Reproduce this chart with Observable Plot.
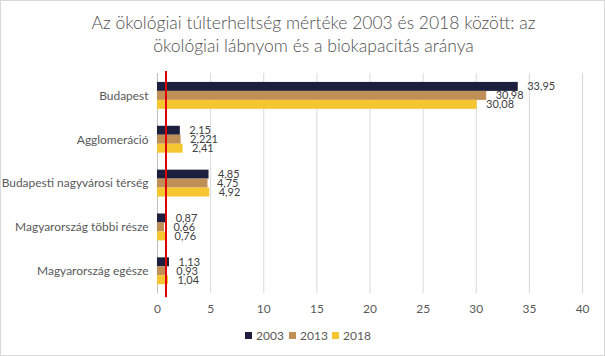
<!DOCTYPE html>
<html>
<head>
<meta charset="utf-8">
<script src="https://cdn.jsdelivr.net/npm/d3@7"></script>
<script src="https://cdn.jsdelivr.net/npm/@observablehq/plot@0.6"></script>
<style>
  html, body { margin: 0; padding: 0; background: #fff; }
  #wrap { position: relative; width: 605px; height: 356px; box-sizing: border-box; border: 1px solid #d9d9d9; overflow: hidden; font-family: Lato, "Liberation Sans", sans-serif; }
  #title { position: absolute; left: 0; top: 10px; width: 625px; text-align: center; font-size: 17.5px; line-height: 23px; color: #505050; font-weight: 300; }
  #chart { position: absolute; left: -1px; top: 59px; }
  #legend { position: absolute; left: 0; top: 327px; width: 605px; height: 18px; font-size: 12px; color: #595959; }
  #legend span.item { position: absolute; top: 0; display: inline-flex; align-items: center; gap: 4px; }
  #legend span.sw { display: inline-block; width: 7px; height: 7px; }
</style>
</head>
<body>
<div id="wrap">
  <div id="title">Az ökológiai túlterheltség mértéke 2003 és 2018 között: az<br>ökológiai lábnyom és a biokapacitás aránya</div>
  <div id="chart"></div>
  <div id="legend"></div>
</div>
<script>
const categories = ["Budapest", "Agglomeráció", "Budapesti nagyvárosi térség", "Magyarország többi része", "Magyarország egésze"];
const years = ["2003", "2013", "2018"];
const v2003 = [33.95, 2.15, 4.85, 0.87, 1.13];
const v2013 = [30.98, 2.221, 4.75, 0.66, 0.93];
const v2018 = [30.08, 2.41, 4.92, 0.76, 1.04];
const labels2003 = ["33,95", "2,15", "4,85", "0,87", "1,13"];
const labels2013 = ["30,98", "2,221", "4,75", "0,66", "0,93"];
const labels2018 = ["30,08", "2,41", "4,92", "0,76", "1,04"];
const xTicks = [0, 5, 10, 15, 20, 25, 30, 35, 40];
const threshold = [0.8];
const colors = ["#1c1f3e", "#c08e57", "#f5c630"];

const series = [v2003, v2013, v2018];
const seriesLabels = [labels2003, labels2013, labels2018];
const rows = [];
years.forEach((yr, i) => {
  categories.forEach((c, j) => {
    rows.push({category: c, year: yr, value: series[i][j], label: seriesLabels[i][j], idx: i});
  });
});

const barH = 9;
const marks = [
  Plot.ruleX(xTicks.filter(d => d > 0), {stroke: "#d9d9d9", strokeWidth: 1}),
  Plot.ruleX([0], {stroke: "#bfbfbf", strokeWidth: 1})
];
years.forEach((yr, i) => {
  const data = rows.filter(r => r.year === yr);
  marks.push(Plot.barX(data, {
    x: "value", y: "category", fill: colors[i],
    insetTop: i * barH, insetBottom: (2 - i) * barH
  }));
  marks.push(Plot.text(data, {
    x: "value", y: "category", text: "label", dx: 9, dy: (i - 1) * barH,
    textAnchor: "start", fill: "#404040", fontSize: 11
  }));
});
marks.push(Plot.ruleX(threshold, {stroke: "#e00000", strokeWidth: 2, insetTop: -2, insetBottom: -4}));

const chart = Plot.plot({
  width: 606,
  height: 262,
  marginTop: 13,
  marginBottom: 28,
  marginLeft: 157.5,
  marginRight: 22,
  style: {fontFamily: "Lato, 'Liberation Sans', sans-serif", fontSize: "12px", color: "#595959", background: "transparent"},
  x: {domain: [0, 40], ticks: xTicks, tickSize: 0, tickPadding: 11, label: null, tickFormat: d => String(d)},
  y: {domain: categories, paddingInner: 0.39, paddingOuter: 0.195, tickSize: 0, tickPadding: 9, label: null, fontSize: 12},
  marks
});
document.getElementById("chart").appendChild(chart);

const legend = document.getElementById("legend");
const legendLeft = [244, 288, 331];
years.forEach((yr, i) => {
  const item = document.createElement("span");
  item.className = "item";
  item.style.left = legendLeft[i] + "px";
  const sw = document.createElement("span");
  sw.className = "sw";
  sw.style.background = colors[i];
  item.appendChild(sw);
  item.appendChild(document.createTextNode(yr));
  legend.appendChild(item);
});
</script>
</body>
</html>
